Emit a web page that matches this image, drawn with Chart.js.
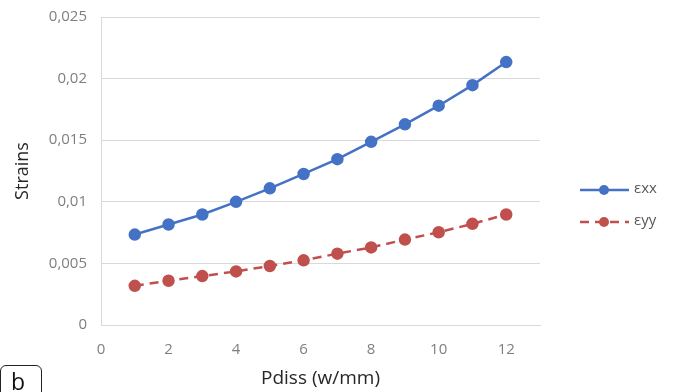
<!DOCTYPE html>
<html>
<head>
<meta charset="utf-8">
<script src="https://cdn.jsdelivr.net/npm/chart.js@4/dist/chart.umd.min.js"></script>
<style>
  html, body { margin: 0; padding: 0; background: #fff; }
  #wrap { position: relative; width: 675px; height: 392px; }
  #tag {
    position: absolute; left: 0; top: 365px; width: 42px; height: 34px;
    border: 1px solid #222; border-radius: 6px; box-sizing: border-box;
    font-family: "Open Sans", sans-serif; font-size: 23px; color: #111;
    padding-left: 10px; line-height: 30px;
  }
</style>
</head>
<body>
<div id="wrap">
  <canvas id="chart" width="675" height="392"></canvas>
  <div id="tag">b</div>
</div>
<script>
const pdiss = [1, 2, 3, 4, 5, 6, 7, 8, 9, 10, 11, 12];
const exx = [0.00734, 0.00816, 0.00897, 0.0100, 0.01109, 0.01226, 0.01346, 0.01487, 0.01629, 0.0178, 0.01947, 0.02134];
const eyy = [0.00318, 0.00359, 0.00397, 0.00435, 0.00479, 0.00525, 0.00579, 0.0063, 0.00693, 0.00753, 0.00821, 0.00897];
const xTicks = [0, 2, 4, 6, 8, 10, 12];
const yTicks = [0, 0.005, 0.01, 0.015, 0.02, 0.025];
const seriesNames = ["εxx", "εyy"];

const blue = "#4472C4";
const red = "#C0504D";
const font = "'Open Sans', sans-serif";

const toPoints = (vals) => pdiss.map((x, i) => ({ x: x, y: vals[i] }));

// legend drawn on the right like the Excel one (line + marker + label)
const sideLegend = {
  id: "sideLegend",
  afterDraw(chart) {
    const ctx = chart.ctx;
    const x0 = chart.chartArea.right + 40;
    const rows = [190, 222];
    chart.data.datasets.forEach((ds, i) => {
      const y = rows[i];
      ctx.save();
      ctx.strokeStyle = ds.borderColor;
      ctx.lineWidth = 2.5;
      ctx.setLineDash(ds.borderDash || []);
      ctx.beginPath();
      ctx.moveTo(x0, y);
      ctx.lineTo(x0 + 49, y);
      ctx.stroke();
      ctx.setLineDash([]);
      ctx.fillStyle = ds.backgroundColor;
      ctx.beginPath();
      ctx.arc(x0 + 24, y, 5, 0, Math.PI * 2);
      ctx.fill();
      ctx.fillStyle = "#595959";
      ctx.font = "15px " + font;
      ctx.textBaseline = "middle";
      ctx.fillText(ds.label, x0 + 54, y - 1);
      ctx.restore();
    });
  }
};

new Chart(document.getElementById("chart").getContext("2d"), {
  type: "scatter",
  data: {
    datasets: [
      {
        label: seriesNames[0],
        data: toPoints(exx),
        showLine: true,
        borderColor: blue,
        backgroundColor: blue,
        borderWidth: 2.5,
        pointRadius: 5,
        pointHoverRadius: 5,
      },
      {
        label: seriesNames[1],
        data: toPoints(eyy),
        showLine: true,
        borderColor: red,
        backgroundColor: red,
        borderWidth: 2.5,
        borderDash: [9, 6],
        pointRadius: 5,
        pointHoverRadius: 5,
      },
    ],
  },
  options: {
    responsive: false,
    animation: false,
    layout: { padding: { top: 17, right: 135, left: 0, bottom: 0 } },
    plugins: {
      legend: { display: false },
      tooltip: { enabled: false },
    },
    scales: {
      x: {
        type: "linear",
        min: 0,
        max: 13,
        afterBuildTicks: (s) => { s.ticks = xTicks.map((v) => ({ value: v })); },
        afterFit: (s) => { s.height = 67; s.paddingLeft = 0; s.paddingRight = 0; },
        grid: { display: false, drawTicks: false },
        border: { display: true, color: "#d9d9d9", width: 1 },
        ticks: { color: "#7f7f7f", font: { family: font, size: 15 }, padding: 16 },
        title: {
          display: true,
          text: "Pdiss (w/mm)",
          color: "#262626",
          font: { family: font, size: 19 },
          padding: { top: 2, bottom: 2 },
        },
      },
      y: {
        min: 0,
        max: 0.025,
        afterBuildTicks: (s) => { s.ticks = yTicks.map((v) => ({ value: v })); },
        afterFit: (s) => { s.width = 101; s.paddingTop = 0; s.paddingBottom = 0; },
        grid: { color: "#d9d9d9", lineWidth: 1, drawTicks: false },
        border: { display: true, color: "#d9d9d9", width: 1 },
        ticks: {
          color: "#7f7f7f",
          font: { family: font, size: 15 },
          padding: 14,
          callback: (v) => String(v).replace(".", ","),
        },
        title: {
          display: true,
          text: "Strains",
          color: "#262626",
          font: { family: font, size: 18 },
          padding: { top: 12, bottom: 10 },
        },
      },
    },
  },
  plugins: [sideLegend],
});
</script>
</body>
</html>
